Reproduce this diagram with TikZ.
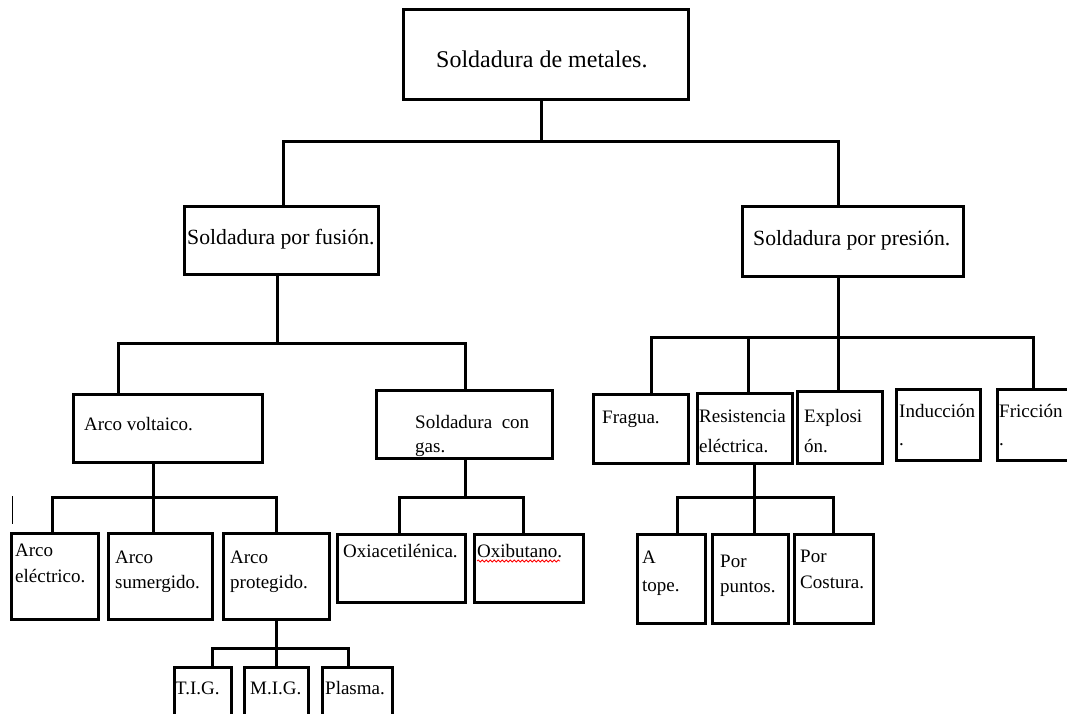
\documentclass[tikz,border=0pt]{standalone}
\usepackage{fontspec}
\setmainfont{Liberation Serif}
\usetikzlibrary{decorations.pathmorphing}
\tikzset{
  boxst/.style={draw=black, line width=3pt, inner sep=0pt, fill=white},
  conn/.style={draw=black, line width=3pt, line join=miter},
  txt/.style={anchor=base west, inner sep=0pt, font=\fontsize{19}{19}\selectfont},
  txtm/.style={anchor=base west, inner sep=0pt, font=\fontsize{21.7}{22}\selectfont},
  txtl/.style={anchor=base west, inner sep=0pt, font=\fontsize{24}{24}\selectfont}
}
\newcommand\mkbox[5]{\node[boxst, minimum width={#4pt-#2pt}, minimum height={#5pt-#3pt}] (#1) at ({(#2+#4)/2},{(#3+#5)/2}) {};}
\begin{document}
\begin{tikzpicture}[x=1pt, y=-1pt]
\useasboundingbox (0,0) rectangle (1067,714);
\clip (0,0) rectangle (1067,714);
\fill[white] (0,0) rectangle (1067,714);
% boxes
\mkbox{top}{403}{10}{688}{100}
\mkbox{fus}{184}{206}{378}{274}
\mkbox{pres}{742}{206}{963}{276}
\mkbox{volt}{73}{394}{262}{462}
\mkbox{gas}{376}{390}{552}{458}
\mkbox{oxia}{337}{534}{465}{602}
\mkbox{oxib}{474}{534}{583}{602}
\mkbox{frag}{593}{394}{688}{463}
\mkbox{resi}{697}{393}{792}{463}
\mkbox{expl}{797}{391}{882}{463}
\mkbox{indu}{896}{389}{980}{460}
\mkbox{fric}{997}{389}{1080}{460}
\mkbox{aele}{11}{533}{98}{619}
\mkbox{asum}{108}{533}{212}{619}
\mkbox{apro}{223}{533}{329}{619}
\mkbox{tig}{174}{667}{231}{730}
\mkbox{mig}{244}{667}{308}{730}
\mkbox{plas}{322}{667}{392}{730}
\mkbox{atop}{637}{534}{705}{623}
\mkbox{ppun}{712}{534}{788}{623}
\mkbox{pcos}{794}{534}{873}{623}
% connectors
\draw[conn] (top.south -| 541,0) -- (541,142);
\draw[conn] (fus.north -| 283,0) |- (838,142) -- (pres.north -| 838,0);
\draw[conn] (fus.south -| 277,0) -- (277,343);
\draw[conn] (volt.north -| 118,0) |- (465,343) -- (gas.north -| 465,0);
\draw[conn] (volt.south -| 153,0) -- (asum.north -| 153,0);
\draw[conn] (aele.north -| 52,0) |- (276,497) -- (apro.north -| 276,0);
\draw[conn] (gas.south -| 465,0) -- (465,497);
\draw[conn] (oxia.north -| 399,0) |- (523,497) -- (oxib.north -| 523,0);
\draw[conn] (apro.south -| 276,0) -- (mig.north -| 276,0);
\draw[conn] (tig.north -| 212,0) |- (348,648) -- (plas.north -| 348,0);
\draw[conn] (pres.south -| 838,0) -- (expl.north -| 838,0);
\draw[conn] (frag.north -| 651,0) |- (1033,337) -- (fric.north -| 1033,0);
\draw[conn] (resi.north -| 748,0) -- (748,337);
\draw[conn] (resi.south -| 754,0) -- (ppun.north -| 754,0);
\draw[conn] (atop.north -| 677,0) |- (833,497) -- (pcos.north -| 833,0);
% stray cursor mark
\draw[black, line width=1pt] (12,496) -- (12,524);
% texts
\node[txtl] (ttop) at (436,68) {Soldadura de metales.};
\node[txtm] (tfus) at (187,244) {Soldadura por fusión.};
\node[txtm] (tpres) at (753,245) {Soldadura por presión.};
\node[txt] (tvolt) at (84,430) {Arco voltaico.};
\node[txt] (tgas1) at (415,428) {Soldadura\hspace{0.5em}con};
\node[txt] (tgas2) at (415,452) {gas.};
\node[txt] (toxia) at (343,557) {Oxiacetilénica.};
\node[txt] (toxib) at (477,557) {Oxibutano.};
\draw[red, line width=0.8pt, decorate, decoration={snake, amplitude=1pt, segment length=4pt}] (toxib.base west) ++(0,4) -- ++(83,0);
\node[txt] (tfrag) at (602,423) {Fragua.};
\node[txt] (tres1) at (699,422) {Resistencia};
\node[txt] (tres2) at (699,452) {eléctrica.};
\node[txt] (texp1) at (804,422) {Explosi};
\node[txt] (texp2) at (804,452) {ón.};
\node[txt] (tind1) at (899,417) {Inducción};
\node[txt] (tind2) at (899,445) {.};
\node[txt] (tfri1) at (999,417) {Fricción};
\node[txt] (tfri2) at (999,445) {.};
\node[txt] (tae1) at (15,556) {Arco};
\node[txt] (tae2) at (15,582) {eléctrico.};
\node[txt] (tas1) at (115,563) {Arco};
\node[txt] (tas2) at (115,588) {sumergido.};
\node[txt] (tap1) at (230,563) {Arco};
\node[txt] (tap2) at (230,588) {protegido.};
\node[txt] (ttig) at (175,694) {T.I.G.};
\node[txt] (tmig) at (250,694) {M.I.G.};
\node[txt] (tplas) at (325,694) {Plasma.};
\node[txt] (tat1) at (642,563) {A};
\node[txt] (tat2) at (642,591) {tope.};
\node[txt] (tpp1) at (720,567) {Por};
\node[txt] (tpp2) at (720,592) {puntos.};
\node[txt] (tpc1) at (800,562) {Por};
\node[txt] (tpc2) at (800,588) {Costura.};
\end{tikzpicture}
\end{document}
